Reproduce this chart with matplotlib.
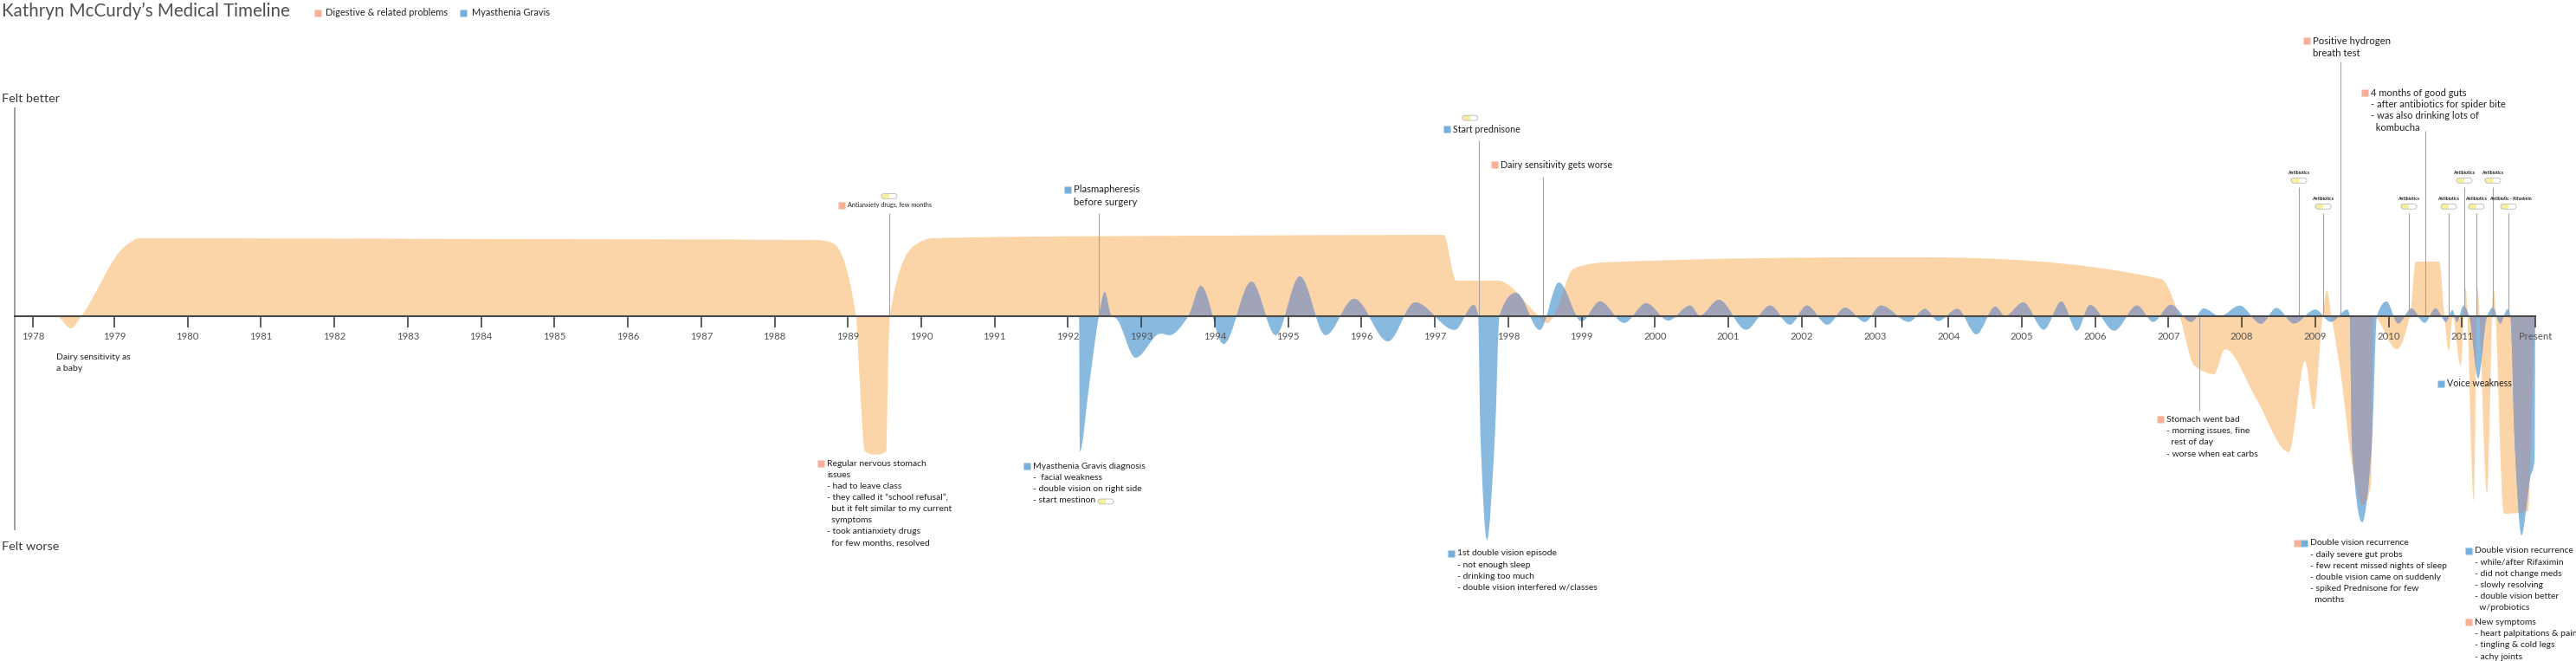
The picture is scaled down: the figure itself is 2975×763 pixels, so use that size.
import numpy as np
import matplotlib
matplotlib.use("Agg")
import matplotlib.pyplot as plt
from matplotlib.path import Path
from matplotlib.patches import PathPatch, FancyBboxPatch, Rectangle
from matplotlib.transforms import ScaledTranslation

plt.rcParams['font.family'] = ['Lato', 'DejaVu Sans']

# ---- data: how I felt (+ better / - worse) ----
tick_years = [1977.89] + list(range(1979, 2012)) + [2012]
tick_labels = ['1978'] + [str(y) for y in range(1979, 2012)] + ['Present']

gut_x = [1978.21, 1978.41, 1978.55, 1979.15, 1979.35, 1984.0, 1988.6, 1988.8, 1989.11, 1989.16,
         1989.23, 1989.38, 1989.52, 1989.55, 1989.57, 1989.95, 1990.15, 1994.0, 1997.12, 1997.29,
         1997.86, 1998.4, 1998.53, 1998.62, 1998.89, 1999.3, 2003.4, 2006.9, 2007.15, 2007.35,
         2007.62, 2007.77, 2008.2, 2008.64, 2008.86, 2008.98, 2009.1, 2009.16, 2009.22, 2009.34,
         2009.52, 2009.64, 2009.76, 2009.79, 2010.11, 2010.29, 2010.37, 2010.69, 2010.76, 2010.82,
         2010.87, 2010.98, 2011.05, 2011.16, 2011.21, 2011.34, 2011.43, 2011.57, 2011.9, 2012.0]
gut_y = [0, -0.47, 0, 2.7, 3.0, 2.97, 2.93, 2.8, 0, -2.5,
         -5.2, -5.33, -5.2, -1.5, 0, 2.8, 3.0, 3.1, 3.13, 1.37,
         1.37, 0.05, -0.27, 0, 1.83, 2.07, 2.27, 1.43, 0, -1.9,
         -2.23, -1.27, -3.2, -5.23, -1.73, -3.6, 0, 1.0, 0, -2.07,
         -6.0, -7.27, -6.5, 0, -1.27, 0, 2.1, 2.1, 0, -1.33,
         0, -1.9, 1.07, -7.1, 1.07, -6.83, 1.07, -7.6, -7.5, 0]

mg_x = [1992.15, 1992.16, 1992.29, 1992.42, 1992.5, 1992.59, 1992.65, 1992.92, 1993.26, 1993.38,
        1993.64, 1993.81, 1994.12, 1994.5, 1994.83, 1995.16, 1995.51, 1995.9, 1996.36, 1996.73,
        1997.27, 1997.53, 1997.59, 1997.62, 1997.71, 1997.82, 1997.88, 1998.11, 1998.43, 1998.69,
        1999.0, 1999.25, 1999.58, 1999.88, 2000.18, 2000.48, 2000.61, 2000.87, 2001.24, 2001.57,
        2001.84, 2002.07, 2002.35, 2002.59, 2002.86, 2003.08, 2003.46, 2003.68, 2003.86, 2004.12,
        2004.38, 2004.64, 2004.77, 2005.02, 2005.3, 2005.54, 2005.75, 2005.93, 2006.26, 2006.57,
        2006.79, 2007.03, 2007.31, 2007.48, 2007.7, 2007.97, 2008.26, 2008.47, 2008.71, 2009.0,
        2009.21, 2009.44, 2009.47, 2009.5, 2009.64, 2009.77, 2009.84, 2009.97, 2010.13, 2010.31,
        2010.49, 2010.64, 2010.78, 2010.87, 2010.93, 2011.02, 2011.1, 2011.22, 2011.34, 2011.42,
        2011.52, 2011.62, 2011.66, 2011.72, 2011.81, 2011.93, 2011.99, 2012.0]
mg_y = [0, -5.2, -2.6, 0, 0.93, 0, -0.07, -1.6, -0.67, -0.73,
        0, 1.17, -1.07, 1.33, -0.73, 1.53, -0.73, 0.67, -0.97, 0.53,
        -0.53, 0.43, 0, -4.5, -8.6, -4.5, 0, 0.9, -0.53, 1.3,
        -0.2, 0.57, -0.26, 0.5, -0.17, 0.41, 0.02, 0.63, -0.52, 0.41,
        -0.33, 0.41, -0.33, 0.33, -0.22, 0.41, -0.22, 0.28, -0.19, 0.28,
        -0.7, 0.37, 0.0, 0.53, -0.52, 0.56, -0.56, 0.43, -0.56, 0.41,
        -0.22, 0.44, -0.22, 0.3, 0.0, 0.41, -0.29, 0.32, -0.28, 0.26,
        -0.22, 0.26, 0, -5.0, -7.93, -5.0, 0, 0.57, -0.28, 0.3,
        -0.26, 0.3, -0.22, 0.24, -0.22, 0.41, 0, -2.4, 0, 0.33,
        -0.28, 0.27, 0, -5.0, -8.43, -6.2, -5.5, 0]

# antibiotic courses and which label row they sit in
abx_years = [2008.777, 2009.108, 2010.276, 2010.819, 2011.031, 2011.196, 2011.42, 2011.633]
abx_upper = [True, False, False, False, True, False, True, False]

GUT = '#fbd5a8'
MG = '#88b9de'
BOTH = '#a1a4b8'
GUT_KEY = '#f7af95'
MG_KEY = '#76afdb'
INK = '#231f20'
LEAD = '#a3a3a3'


def smooth_area(xs, ys):
    # closed path: monotone cubic through the points, back along the baseline
    xs = np.asarray(xs, float)
    ys = np.asarray(ys, float)
    h = np.diff(xs)
    d = np.diff(ys) / h
    m = np.zeros_like(xs)
    for i in range(1, len(xs) - 1):
        if d[i - 1] * d[i] > 0:
            w1 = 2 * h[i] + h[i - 1]
            w2 = h[i] + 2 * h[i - 1]
            m[i] = (w1 + w2) / (w1 / d[i - 1] + w2 / d[i])
    verts = [(xs[0], 0.0), (xs[0], ys[0])]
    codes = [Path.MOVETO, Path.LINETO]
    for i in range(len(xs) - 1):
        k = h[i] / 3
        verts += [(xs[i] + k, ys[i] + m[i] * k), (xs[i + 1] - k, ys[i + 1] - m[i + 1] * k),
                  (xs[i + 1], ys[i + 1])]
        codes += [Path.CURVE4] * 3
    verts += [(xs[-1], 0.0), (xs[0], 0.0)]
    codes += [Path.LINETO, Path.CLOSEPOLY]
    return Path(verts, codes)


fig = plt.figure(figsize=(29.75, 7.63), dpi=100)
ax = fig.add_axes([0, 0, 1, 1])
ax.set_xlim(1977.442, 2012.554)
ax.set_ylim(-13.267, 12.167)

gut_patch = PathPatch(smooth_area(gut_x, gut_y), fc=GUT, ec='none', zorder=1)
ax.add_patch(gut_patch)
mg_path = smooth_area(mg_x, mg_y)
ax.add_patch(PathPatch(mg_path, fc=MG, ec='none', zorder=1.1))
both = PathPatch(mg_path, fc=BOTH, ec='none', zorder=1.2)
ax.add_patch(both)
both.set_clip_path(gut_patch)

# axes: baseline timeline + "felt" axis
for s in ['top', 'right']:
    ax.spines[s].set_visible(False)
ax.spines['bottom'].set_position(('data', 0))
ax.spines['bottom'].set_bounds(1977.643, 2012)
ax.spines['bottom'].set_color('#4a4a4a')
ax.spines['bottom'].set_linewidth(1.5)
ax.spines['bottom'].set_zorder(4)
ax.spines['left'].set_position(('data', 1977.643))
ax.spines['left'].set_bounds(-8.2, 8.0)
ax.spines['left'].set_color('#8c8c8c')
ax.spines['left'].set_linewidth(1.2)
ax.set_yticks([])
ax.set_xticks(tick_years, tick_labels)
ax.tick_params(axis='x', direction='out', length=9.5, width=1.1, color='#333333',
               pad=3.5, labelsize=8.2, labelcolor='#555555')

ax.text(1977.47, 8.37, 'Felt better', fontsize=10.4, color='#3a3a3a', va='center')
ax.text(1977.47, -8.87, 'Felt worse', fontsize=10.4, color='#3a3a3a', va='center')

# title + key
ax.text(1977.465, 11.73, 'Kathryn McCurdy\u2019s Medical Timeline', fontsize=14.8,
        color='#505050', va='center')
ax.plot([1981.768], [11.68], 's', ms=6.2, color=GUT_KEY, mec='none')
ax.text(1981.88, 11.68, 'Digestive & related problems', fontsize=7.9, color=INK, va='center')
ax.plot([1983.762], [11.68], 's', ms=6.2, color=MG_KEY, mec='none')
ax.text(1983.874, 11.68, 'Myasthenia Gravis', fontsize=7.9, color=INK, va='center')


def pill(x, y, w=0.18, h=0.058):
    tr = fig.dpi_scale_trans + ScaledTranslation(x, y, ax.transData)
    body = FancyBboxPatch((-w / 2, -h / 2), w, h, boxstyle=f"round,pad=0,rounding_size={h / 2}",
                          transform=tr, fc='white', ec='none', zorder=5)
    ax.add_patch(body)
    half = Rectangle((-w / 2, -h / 2), w / 2, h, transform=tr, fc='#f7f09e', ec='none', zorder=5.1)
    ax.add_patch(half)
    half.set_clip_path(body)
    ax.add_patch(FancyBboxPatch((-w / 2, -h / 2), w, h, boxstyle=f"round,pad=0,rounding_size={h / 2}",
                                transform=tr, fc='none', ec='#b8b8b8', lw=0.6, zorder=5.2))


def note(x, y, lines, keys=(), size=7.5, dy=0.437):
    for i, line in enumerate(lines):
        ax.text(x, y - i * dy, line, fontsize=size, color=INK, va='center', ha='left')
    n = len(keys)
    for j, c in enumerate(keys):
        ax.plot([x - 0.078 - 0.1 * (n - 1 - j)], [y], 's', ms=5.4, color=c, mec='none', zorder=6)


def lead(x, y0, y1):
    ax.vlines(x, y0, y1, color=LEAD, lw=0.8, zorder=3)


# notes above the line
lead(1989.563, 0, 3.97)
pill(1989.563, 4.62)
note(1988.997, 4.27, ['Antianxiety drugs, few months'], [GUT_KEY], size=5.2)
lead(1992.419, 0, 3.97)
note(1992.077, 4.87, ['Plasmapheresis', 'before surgery'], [MG_KEY], size=8.2, dy=0.47)
lead(1997.60, 0, 6.77)
pill(1997.48, 7.63)
note(1997.246, 7.2, ['Start prednisone'], [MG_KEY], size=7.7)
lead(1998.474, 0, 5.37)
note(1997.895, 5.83, ['Dairy sensitivity gets worse'], [GUT_KEY], size=7.7)
lead(2009.344, 0, 9.8)
note(2008.966, 10.6, ['Positive hydrogen', 'breath test'], [GUT_KEY], size=8.2, dy=0.47)
lead(2010.50, 0, 7.13)
note(2009.757, 8.6, ['4 months of good guts', '- after antibiotics for spider bite',
                     '- was also drinking lots of', '  kombucha'], [GUT_KEY], size=8.0, dy=0.445)

for yr, up in zip(abx_years, abx_upper):
    top = 4.97 if up else 3.97
    lead(yr, 0, top)
    pill(yr, top + 0.25)
    if yr == abx_years[-1]:
        ax.text(2011.38, top + 0.56, 'Antibiotic - Rifaximin', fontsize=3.7, color=INK,
                va='center', ha='left', fontweight='bold')
    else:
        ax.text(yr, top + 0.56, 'Antibiotics', fontsize=3.7, color=INK, va='center',
                ha='center', fontweight='bold')

# notes below the line
note(1978.209, -1.57, ['Dairy sensitivity as', 'a baby'])
note(1988.713, -5.67, ['Regular nervous stomach', 'issues', '- had to leave class',
                       '- they called it \u201cschool refusal\u201d,', '  but it felt similar to my current',
                       '  symptoms', '- took antianxiety drugs', '  for few months, resolved'],
     [GUT_KEY])
note(1991.522, -5.77, ['Myasthenia Gravis diagnosis', '-  facial weakness',
                       '- double vision on right side', '- start mestinon'], [MG_KEY])
pill(1992.514, -7.13)
note(1997.305, -9.13, ['1st double vision episode', '- not enough sleep', '- drinking too much',
                       '- double vision interfered w/classes'], [MG_KEY])
lead(2007.42, -3.63, 0)
note(2006.97, -3.97, ['Stomach went bad', '- morning issues, fine', '  rest of day',
                      '- worse when eat carbs'], [GUT_KEY], dy=0.445)
note(2010.795, -2.6, ['Voice weakness'], [MG_KEY], size=7.7)
note(2008.93, -8.73, ['Double vision recurrence', '- daily severe gut probs',
                      '- few recent missed nights of sleep', '- double vision came on suddenly',
                      '- spiked Prednisone for few', '  months'], [GUT_KEY, MG_KEY], dy=0.44)
note(2011.17, -9.03, ['Double vision recurrence', '- while/after Rifaximin', '- did not change meds',
                      '- slowly resolving', '- double vision better', '  w/probiotics'],
     [MG_KEY], dy=0.44)
note(2011.17, -11.77, ['New symptoms', '- heart palpitations & pain', '- tingling & cold legs',
                       '- achy joints'], [GUT_KEY], dy=0.445)

fig.savefig('out.png', dpi=100)
